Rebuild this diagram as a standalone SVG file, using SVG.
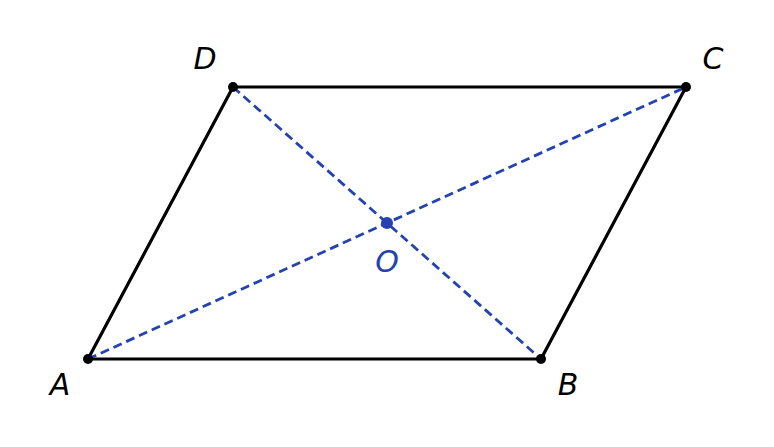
<svg xmlns="http://www.w3.org/2000/svg" width="774" height="447" viewBox="0 0 774 447">
<style>
.side{stroke:#000;stroke-width:3.2;fill:none;stroke-linejoin:round}
.diag{stroke:#2442b0;stroke-width:2.8;stroke-dasharray:9,5;fill:none}
.lbl{font-family:"DejaVu Sans",sans-serif;font-style:italic;font-size:30px;fill:#000}
.blue{fill:#2442b0}
</style>
<rect width="774" height="447" fill="#fff"/>
<g id="connectors">
<polygon class="side" points="88,359 541,359 686,87 233,87"/>
<line class="diag" x1="88" y1="359" x2="686" y2="87"/>
<line class="diag" x1="233" y1="87" x2="541" y2="359"/>
</g>
<g id="A"><circle cx="88" cy="359" r="5"/><text class="lbl" x="60" y="395" text-anchor="middle">A</text></g>
<g id="B"><circle cx="541" cy="359" r="5"/><text class="lbl" x="568" y="395" text-anchor="middle">B</text></g>
<g id="C"><circle cx="686" cy="87" r="5"/><text class="lbl" x="713" y="69" text-anchor="middle">C</text></g>
<g id="D"><circle cx="233" cy="87" r="5"/><text class="lbl" x="205" y="69" text-anchor="middle">D</text></g>
<g id="O"><circle class="blue" cx="387" cy="223" r="6"/><text class="lbl blue" x="387" y="272" text-anchor="middle">O</text></g>
</svg>
